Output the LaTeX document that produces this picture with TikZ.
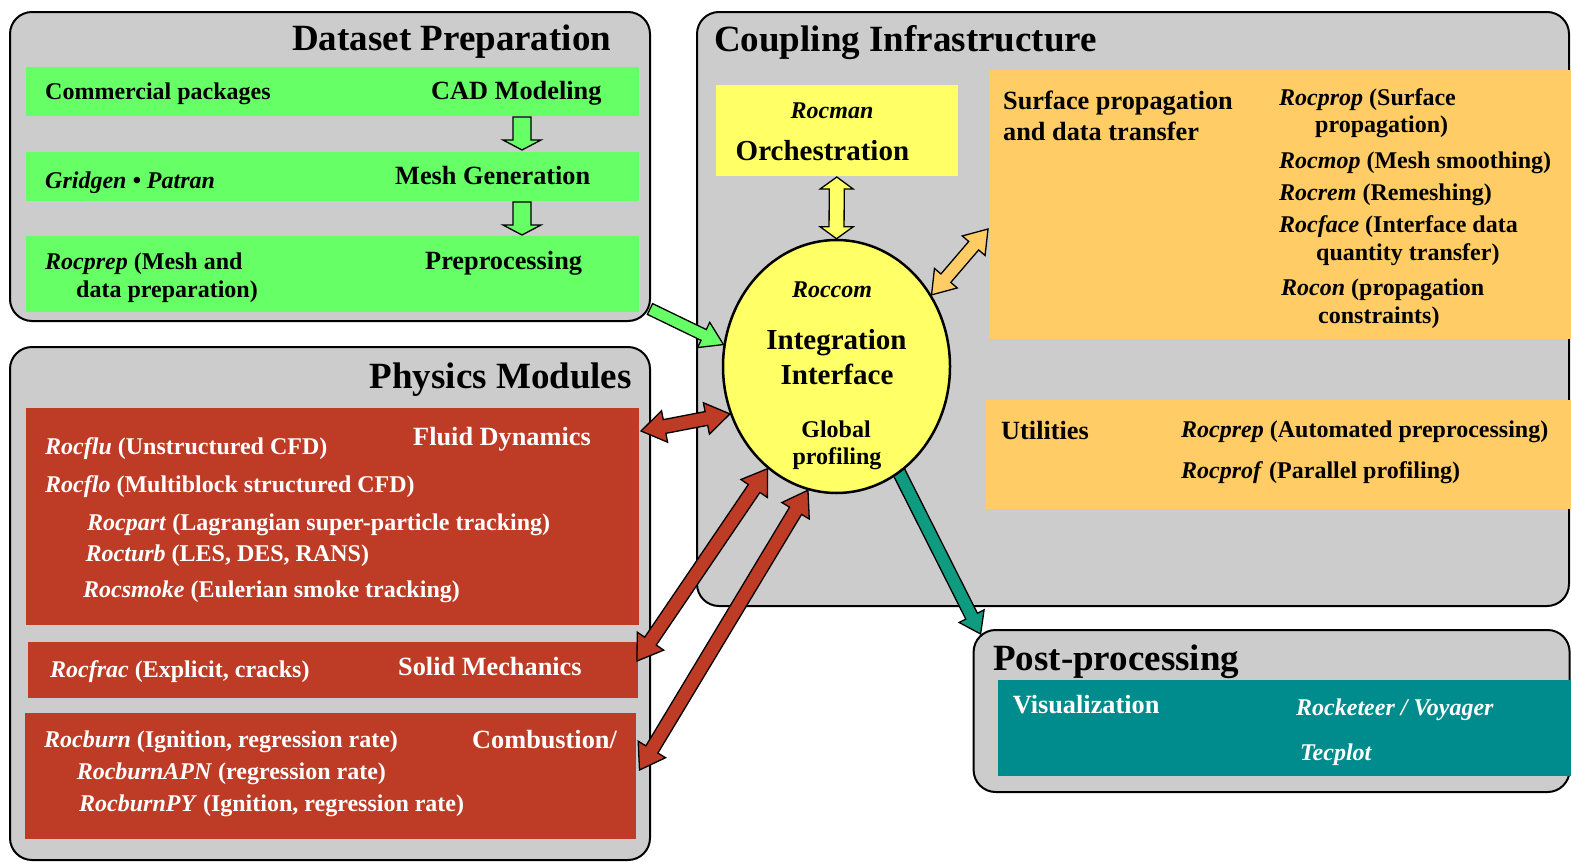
\documentclass[tikz,border=0pt]{standalone}
\usepackage{fontspec}
\setmainfont{Liberation Serif}
\usetikzlibrary{calc,shapes.geometric}

\definecolor{panelgray}{HTML}{CCCCCC}
\definecolor{greenbox}{HTML}{66FF66}
\definecolor{redbox}{HTML}{BE3B26}
\definecolor{yellowbox}{HTML}{FFFF66}
\definecolor{orangebox}{HTML}{FFCC66}
\definecolor{tealbox}{HTML}{008C8C}
\definecolor{tealarrow}{HTML}{0F9B80}

\newcommand{\rname}[1]{\textit{#1}}

% single block arrow: style, tail, tip, shaft half-width, head half-width, head length
\newcommand{\blkarrow}[6]{%
  \coordinate (bah) at ($(#3)!#6!(#2)$);
  \draw[#1] ($(#2)!#4!90:(#3)$) -- ($(bah)!#4!90:(#3)$) -- ($(bah)!#5!90:(#3)$)
    -- (#3) -- ($(bah)!#5!-90:(#3)$) -- ($(bah)!#4!-90:(#3)$)
    -- ($(#2)!#4!-90:(#3)$) -- cycle;
}
% double block arrow: style, end A, end B, shaft half-width, head half-width, head length
\newcommand{\dblarrow}[6]{%
  \coordinate (baa) at ($(#2)!#6!(#3)$);
  \coordinate (bab) at ($(#3)!#6!(#2)$);
  \draw[#1] (#2) -- ($(baa)!#5!90:(#3)$) -- ($(baa)!#4!90:(#3)$)
    -- ($(bab)!#4!90:(#3)$) -- ($(bab)!#5!90:(#3)$) -- (#3)
    -- ($(bab)!#5!-90:(#3)$) -- ($(bab)!#4!-90:(#3)$)
    -- ($(baa)!#4!-90:(#3)$) -- ($(baa)!#5!-90:(#3)$) -- cycle;
}

\begin{document}
\begin{tikzpicture}[x=1pt,y=-1pt,
  panel/.style={draw=black, line width=2pt, fill=panelgray, rounded corners=22pt,
    inner sep=0pt, outer sep=0pt, anchor=north west},
  fbox/.style={inner sep=0pt, outer sep=0pt, anchor=north west},
  ttl/.style={font=\fontsize{37}{40}\selectfont\bfseries, inner sep=0pt, anchor=base west},
  hd/.style={font=\fontsize{26.3}{30}\selectfont\bfseries, inner sep=0pt, anchor=base west},
  bd/.style={font=\fontsize{24}{28}\selectfont\bfseries, inner sep=0pt, anchor=base west},
  big/.style={font=\fontsize{29}{33}\selectfont\bfseries, inner sep=0pt, anchor=base west},
  arrowline/.style={draw=black, line width=1.3pt, line join=miter},
  garrow/.style={arrowline, fill=greenbox},
  rarrow/.style={arrowline, fill=redbox},
  yarrow/.style={arrowline, fill=yellowbox},
  oarrow/.style={arrowline, fill=orangebox},
  tarrow/.style={arrowline, fill=tealarrow},
]
\useasboundingbox (0,0) rectangle (1571,862);

% ---------- Dataset preparation ----------
\node[panel, minimum width=640pt, minimum height=309pt] (ds) at (10,12) {};
\node[ttl] (dst) at (292,50) {Dataset Preparation};
\node[fbox, fill=greenbox, minimum width=613pt, minimum height=49pt] (g1) at (26,67) {};
\node[bd] (g1a) at (45,99) {Commercial packages};
\node[hd] (g1b) at (431,99) {CAD Modeling};
\node[fbox, fill=greenbox, minimum width=613pt, minimum height=49pt] (g2) at (26,152) {};
\node[bd] (g2a) at (45,188) {\rname{Gridgen • Patran}};
\node[hd] (g2b) at (395,184) {Mesh Generation};
\node[fbox, fill=greenbox, minimum width=613pt, minimum height=76pt] (g3) at (26,236) {};
\node[bd] (g3a) at (45,269) {\rname{Rocprep} (Mesh and};
\node[bd] (g3b) at (76,297) {data preparation)};
\node[hd] (g3c) at (425,269) {Preprocessing};
\coordinate (d1a) at ($(g1.south west)+(496,1)$);
\coordinate (d1b) at ($(g2.north west)+(496,-2)$);
\coordinate (d2a) at ($(g2.south west)+(496,1)$);
\coordinate (d2b) at ($(g3.north west)+(496,-1)$);
\blkarrow{garrow}{d1a}{d1b}{9pt}{19pt}{10pt}
\blkarrow{garrow}{d2a}{d2b}{9pt}{19pt}{10pt}

% ---------- Physics modules ----------
\node[panel, minimum width=640pt, minimum height=513pt] (pm) at (10,347) {};
\node[ttl] (pmt) at (369.5,388) {Physics Modules};
\node[fbox, fill=redbox, minimum width=613pt, minimum height=217pt] (fluid) at (26,408) {};
\begin{scope}[text=white]
\node[bd] (f1) at (45,454) {\rname{Rocflu} (Unstructured CFD)};
\node[hd] (f0) at (413,445) {Fluid Dynamics};
\node[bd] (f2) at (45,492) {\rname{Rocflo} (Multiblock structured CFD)};
\node[bd] (f3) at (87,530) {\rname{Rocpart} (Lagrangian super-particle tracking)};
\node[bd] (f4) at (85.5,561) {\rname{Rocturb} (LES, DES, RANS)};
\node[bd] (f5) at (83,597) {\rname{Rocsmoke} (Eulerian smoke tracking)};
\end{scope}
\node[fbox, fill=redbox, minimum width=610pt, minimum height=56pt] (solid) at (28,642) {};
\begin{scope}[text=white]
\node[bd] (s1) at (50,677) {\rname{Rocfrac} (Explicit, cracks)};
\node[hd] (s0) at (398,675) {Solid Mechanics};
\end{scope}
\node[fbox, fill=redbox, minimum width=610.5pt, minimum height=126pt] (comb) at (25,713) {};
\begin{scope}[text=white]
\node[bd] (c1) at (44,747) {\rname{Rocburn} (Ignition, regression rate)};
\node[hd] (c0) at (472,748) {Combustion/};
\node[bd] (c2) at (76.6,779) {\rname{RocburnAPN} (regression rate)};
\node[bd] (c3) at (79,811) {\rname{RocburnPY} (Ignition, regression rate)};
\end{scope}

% ---------- Coupling infrastructure ----------
\node[panel, minimum width=872pt, minimum height=594pt] (ci) at (697,12) {};
\node[ttl] (cit) at (714,51) {Coupling Infrastructure};
\node[fbox, fill=yellowbox, minimum width=242.4pt, minimum height=91pt] (orch) at (715.6,85) {};
\node[bd, anchor=base] (orcha) at (832,118) {\rname{Rocman}};
\node[big] (orchb) at (735.5,160) {Orchestration};
\node[fbox, fill=orangebox, minimum width=582pt, minimum height=269pt] (surf) at (989,70) {};
\node[hd] (sp1) at (1003,109) {Surface propagation};
\node[hd] (sp2) at (1003,140) {and data transfer};
\node[bd] (sr1) at (1279,105) {\rname{Rocprop} (Surface};
\node[bd] (sr2) at (1315,132) {propagation)};
\node[bd] (sr3) at (1279,168) {\rname{Rocmop} (Mesh smoothing)};
\node[bd] (sr4) at (1279,200) {\rname{Rocrem} (Remeshing)};
\node[bd] (sr5) at (1279,232) {\rname{Rocface} (Interface data};
\node[bd] (sr6) at (1316,260) {quantity transfer)};
\node[bd] (sr7) at (1281,295) {\rname{Rocon} (propagation};
\node[bd] (sr8) at (1318,323) {constraints)};
\node[fbox, fill=orangebox, minimum width=585pt, minimum height=109pt] (util) at (986,400) {};
\node[hd] (u0) at (1001,439) {Utilities};
\node[bd] (u1) at (1181,437) {\rname{Rocprep} (Automated preprocessing)};
\node[bd] (u2) at (1181,478) {\rname{Rocprof} (Parallel profiling)};

% ---------- Post-processing ----------
\node[panel, minimum width=596pt, minimum height=162pt] (post) at (973.6,630) {};
\node[ttl] (pt) at (993,670) {Post-processing};
\node[fbox, fill=tealbox, minimum width=573pt, minimum height=96pt] (vis) at (998,680) {};
\begin{scope}[text=white]
\node[hd] (v0) at (1012.6,713) {Visualization};
\node[bd] (v1) at (1296,715) {\rname{Rocketeer / Voyager}};
\node[bd] (v2) at (1300,760) {\rname{Tecplot}};
\end{scope}

% ---------- Integration interface ----------
\coordinate (ellc) at (836.5,366.5);
\coordinate (ttail) at ($(ellc)+(46,73)$);
\coordinate (ttip) at ($(post.north west)+(7,4)$);
\blkarrow{tarrow}{ttail}{ttip}{6.5pt}{14pt}{20pt}
\node[ellipse, draw=black, line width=2.5pt, fill=yellowbox, inner sep=0pt,
  minimum width=227pt, minimum height=253pt] (ell) at (ellc) {};
\node[bd, anchor=base] (e1) at (832,297) {\rname{Roccom}};
\node[big, anchor=base] (e2) at (836.5,349) {Integration};
\node[big, anchor=base] (e3) at (837,384) {Interface};
\node[bd, anchor=base] (e4) at (836,437) {Global};
\node[bd, anchor=base] (e5) at (837,464) {profiling};

% ---------- connectors ----------
\coordinate (ytop) at ($(orch.south)+(0,1)$);
\dblarrow{yarrow}{ytop}{ell.north}{7.5pt}{16.5pt}{12pt}
\coordinate (otip) at ($(surf.north west)+(-1,159)$);
\dblarrow{oarrow}{ell.37}{otip}{6.5pt}{15pt}{22pt}
\coordinate (gtail) at ($(ds.south east)+(0,-12)$);
\blkarrow{garrow}{gtail}{ell.169}{6pt}{14pt}{22pt}
\coordinate (r1) at ($(fluid.north east)+(2,23)$);
\dblarrow{rarrow}{r1}{ell.204}{7pt}{16pt}{24pt}
\coordinate (r2) at ($(solid.east)+(-1,-9)$);
\dblarrow{rarrow}{ell.236}{r2}{7pt}{16pt}{24pt}
\coordinate (r3) at ($(comb.east)+(4,-6)$);
\dblarrow{rarrow}{ell.257}{r3}{7pt}{16pt}{24pt}
\end{tikzpicture}
\end{document}
